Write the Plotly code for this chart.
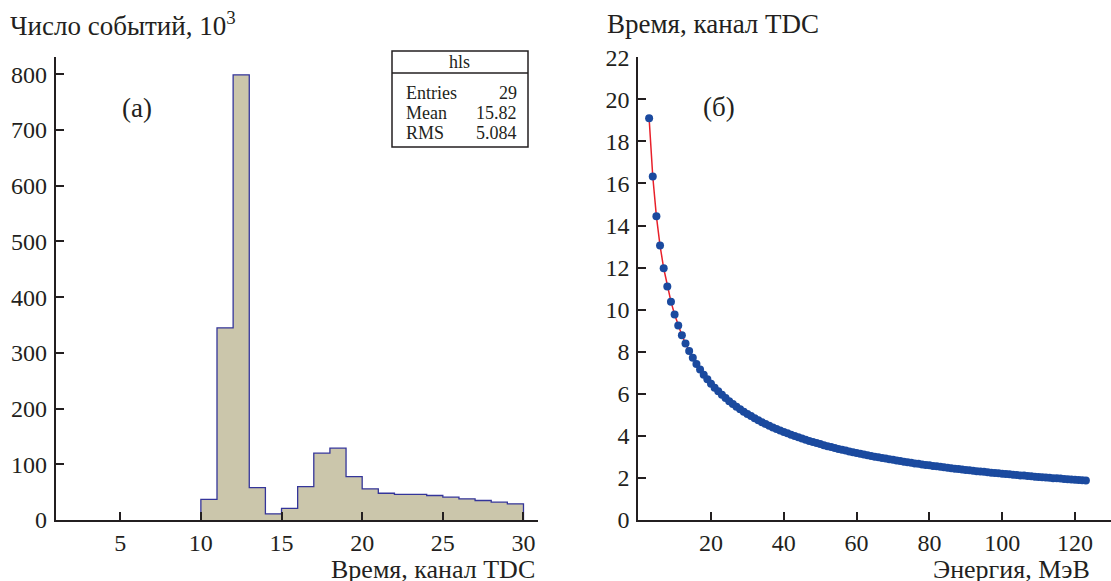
import plotly.graph_objects as go

W, H = 1111, 581
FONT = "Liberation Serif"
INK = "#231f20"

# ---- panel (а): histogram (bin edges 10..30, width 1) ----
bin_edges = list(range(10, 31))
counts = [37, 345, 799, 58, 11, 21, 60, 120, 129, 78, 56, 48, 46, 46, 44, 41, 38, 35, 32, 29]

x_ticks_a = [5, 10, 15, 20, 25, 30]
y_ticks_a = [0, 100, 200, 300, 400, 500, 600, 700, 800]

# ---- panel (б): energy (MeV) vs TDC channel ----
energy = list(range(3, 124))
tdc = [19.10, 16.33, 14.44, 13.05, 11.97, 11.10, 10.38, 9.77, 9.25, 8.79, 8.39, 8.03, 7.71, 7.42,
       7.15, 6.91, 6.69, 6.48, 6.29, 6.12, 5.95, 5.80, 5.65, 5.52, 5.39, 5.26, 5.15, 5.04, 4.94,
       4.84, 4.74, 4.65, 4.57, 4.48, 4.40, 4.33, 4.26, 4.19, 4.12, 4.05, 3.99, 3.93, 3.87, 3.82,
       3.76, 3.71, 3.66, 3.61, 3.56, 3.51, 3.47, 3.42, 3.38, 3.34, 3.30, 3.26, 3.22, 3.18, 3.15,
       3.11, 3.08, 3.04, 3.01, 2.98, 2.95, 2.92, 2.89, 2.86, 2.83, 2.80, 2.77, 2.75, 2.72, 2.69,
       2.67, 2.64, 2.62, 2.60, 2.57, 2.55, 2.53, 2.51, 2.48, 2.46, 2.44, 2.42, 2.40, 2.38, 2.36,
       2.34, 2.32, 2.31, 2.29, 2.27, 2.25, 2.24, 2.22, 2.20, 2.19, 2.17, 2.15, 2.14, 2.12, 2.11,
       2.09, 2.08, 2.06, 2.05, 2.03, 2.02, 2.01, 1.99, 1.98, 1.97, 1.95, 1.94, 1.93, 1.91, 1.90,
       1.89, 1.88]

x_ticks_b = [20, 40, 60, 80, 100, 120]
y_ticks_b = list(range(0, 23, 2))

stats_labels = ["Entries", "Mean", "RMS"]
stats_values = ["29", "15.82", "5.084"]


def px(x):
    return x / W


def py(y):
    return 1 - y / H


fig = go.Figure()

step_x = [bin_edges[0]] + bin_edges[:-1] + [bin_edges[-1]]
step_y = [0] + counts + [0]
fig.add_trace(go.Scatter(x=step_x, y=step_y, mode="lines", line_shape="hv",
                         fill="tozeroy", fillcolor="#cbc6ab",
                         line=dict(color="#34359a", width=1.3),
                         xaxis="x", yaxis="y", showlegend=False, hoverinfo="skip"))

fig.add_trace(go.Scatter(x=energy, y=tdc, mode="lines+markers",
                         line=dict(color="#e8202a", width=1.5),
                         marker=dict(color="#1b4a9f", size=8),
                         xaxis="x2", yaxis="y2", showlegend=False))

axis_common = dict(showline=True, linecolor=INK, linewidth=1.6, ticks="inside",
                   tickcolor=INK, tickwidth=1.6, ticklen=8, showgrid=False,
                   zeroline=False, automargin=False,
                   tickfont=dict(family=FONT, size=24, color=INK))

y_bot, y_top = py(520), py(57.3)
fig.update_layout(
    width=W, height=H, margin=dict(l=0, r=0, t=0, b=0, pad=0),
    paper_bgcolor="white", plot_bgcolor="white",
    xaxis=dict(domain=[px(55.7), px(538)], range=[1, 30.9], tickvals=x_ticks_a,
               anchor="y", ticklabelstandoff=0, **axis_common),
    yaxis=dict(domain=[y_bot, y_top], range=[0, 830.5], tickvals=y_ticks_a,
               anchor="x", ticklabelstandoff=2, **axis_common),
    xaxis2=dict(domain=[px(638.2), 1.0], range=[0, 129.9], tickvals=x_ticks_b,
                anchor="y2", ticklabelstandoff=0, **axis_common),
    yaxis2=dict(domain=[y_bot, y_top], range=[0, 22], tickvals=y_ticks_b,
                anchor="x2", ticklabelstandoff=2, **axis_common),
)

TF = dict(family=FONT, size=27, color=INK)
XF = dict(family=FONT, size=26, color=INK)
ann = [
    dict(text="Число событий, 10<sup>3</sup>", x=px(8), y=py(24), xanchor="left", yanchor="middle", font=TF),
    dict(text="Время, канал TDC", x=px(605), y=py(24), xanchor="left", yanchor="middle", font=TF),
    dict(text="Время, канал TDC", x=px(537), y=py(569), xanchor="right", yanchor="middle", font=XF),
    dict(text="Энергия, МэВ", x=px(1092), y=py(569), xanchor="right", yanchor="middle", font=XF),
    dict(text="(а)", x=px(137), y=py(108), xanchor="center", yanchor="middle", font=TF),
    dict(text="(б)", x=px(719), y=py(107), xanchor="center", yanchor="middle", font=TF),
]
SF = dict(family=FONT, size=18, color=INK)
ann.append(dict(text="hls", x=px(460), y=py(62), xanchor="center", yanchor="middle", font=SF))
for i, (lab, val) in enumerate(zip(stats_labels, stats_values)):
    yy = 93 + 20 * i
    ann.append(dict(text=lab, x=px(404), y=py(yy), xanchor="left", yanchor="middle", font=SF))
    ann.append(dict(text=val, x=px(519), y=py(yy), xanchor="right", yanchor="middle", font=SF))
for a_ in ann:
    a_.update(xref="paper", yref="paper", showarrow=False)
fig.update_layout(annotations=ann)

fig.add_shape(type="rect", xref="paper", yref="paper", x0=px(392), x1=px(528), y0=py(147), y1=py(51),
              line=dict(color=INK, width=1.5), fillcolor="white", layer="below")
fig.add_shape(type="line", xref="paper", yref="paper", x0=px(392), x1=px(528), y0=py(73), y1=py(73),
              line=dict(color=INK, width=1.5))

fig.write_html("out.html", config={"displayModeBar": False},
               post_script="document.body.style.margin='0';")
